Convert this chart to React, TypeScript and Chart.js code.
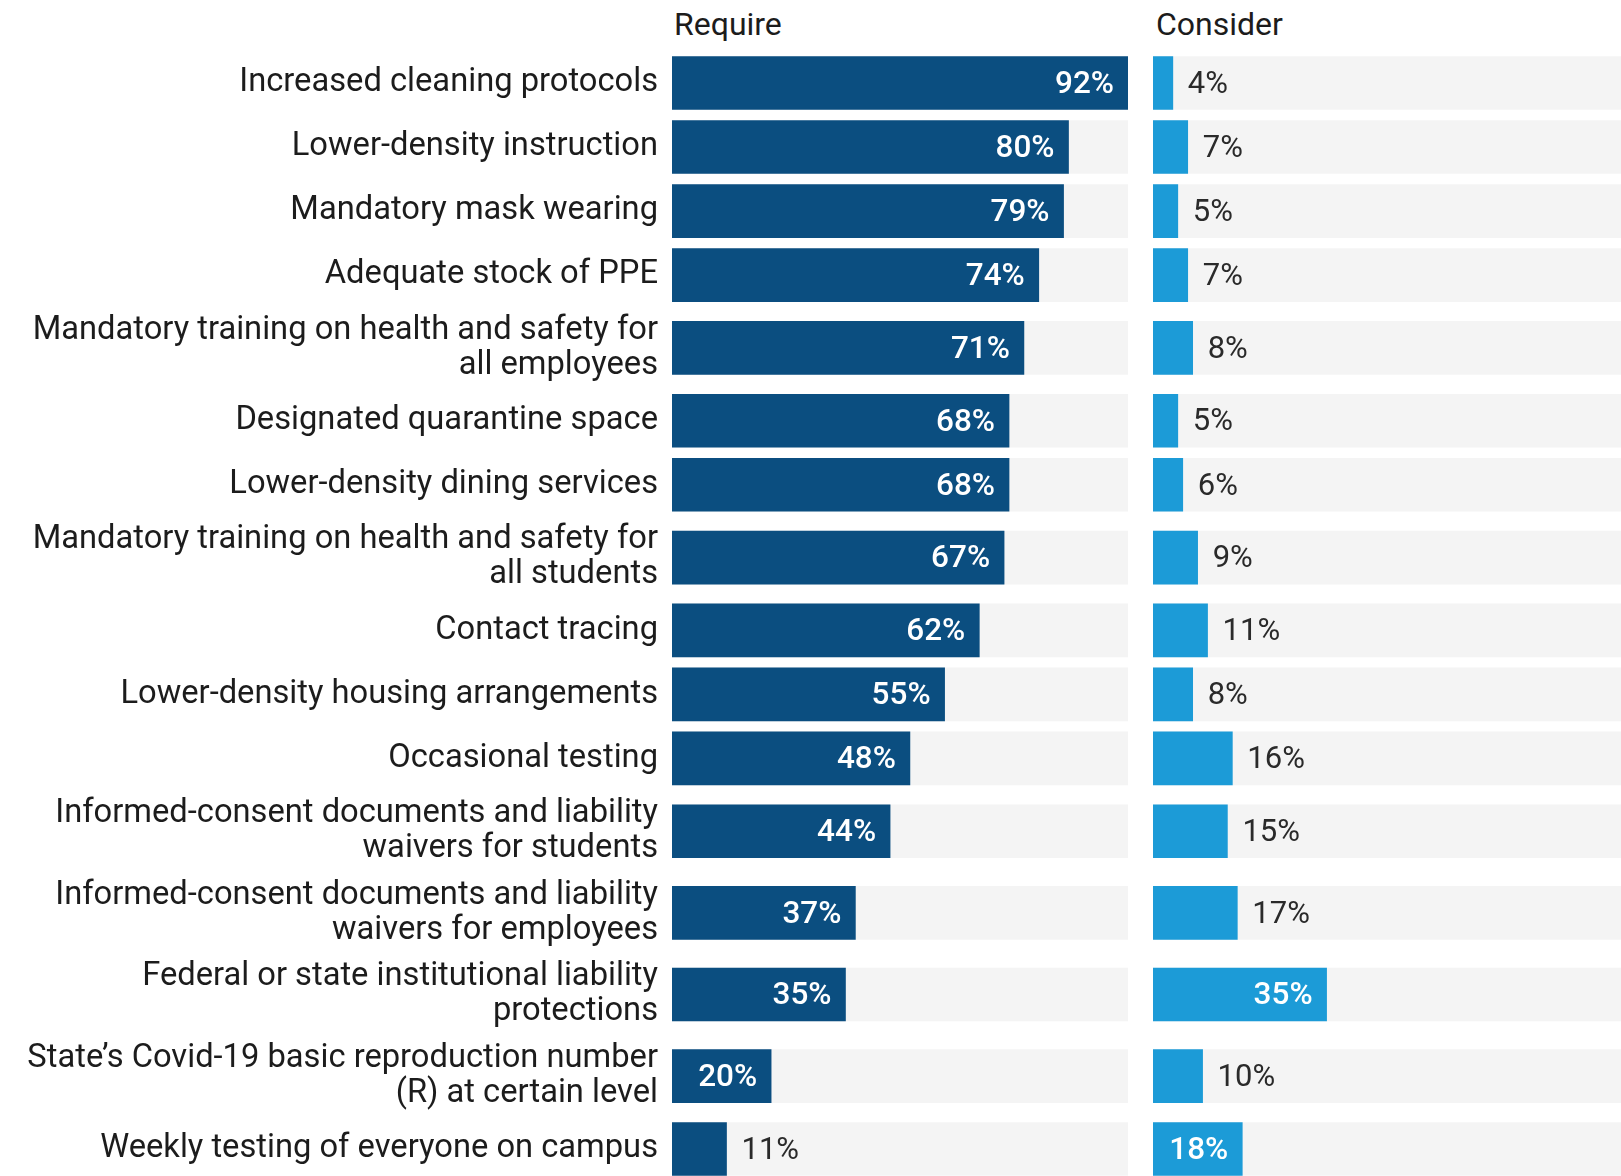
import React, { useEffect, useRef } from "react";
import { Chart, registerables } from "chart.js";

Chart.register(...registerables);

// ---- data ----
const categories: string[][] = [
  ["Increased cleaning protocols"],
  ["Lower-density instruction"],
  ["Mandatory mask wearing"],
  ["Adequate stock of PPE"],
  ["Mandatory training on health and safety for", "all employees"],
  ["Designated quarantine space"],
  ["Lower-density dining services"],
  ["Mandatory training on health and safety for", "all students"],
  ["Contact tracing"],
  ["Lower-density housing arrangements"],
  ["Occasional testing"],
  ["Informed-consent documents and liability", "waivers for students"],
  ["Informed-consent documents and liability", "waivers for employees"],
  ["Federal or state institutional liability", "protections"],
  ["State\u2019s Covid-19 basic reproduction number", "(R) at certain level"],
  ["Weekly testing of everyone on campus"],
];
const requireValues = [92, 80, 79, 74, 71, 68, 68, 67, 62, 55, 48, 44, 37, 35, 20, 11];
const considerValues = [4, 7, 5, 7, 8, 5, 6, 9, 11, 8, 16, 15, 17, 35, 10, 18];
const panelTitles = ["Require", "Consider"];

// ---- layout helpers (row height grows with the number of label lines) ----
const rowWeights = categories.map((l) => (l.length > 1 ? 1.275 : 1));
const rowCenters: number[] = [];
let acc = 0;
rowWeights.forEach((w) => {
  rowCenters.push(acc + w / 2);
  acc += w;
});
const totalRows = acc;

const DARK = "#0b4e80";
const LIGHT = "#1c9bd7";
const TRACK = "#f4f4f4";
const FONT = "Roboto, 'Noto Sans', sans-serif";

function makeLabelPlugin(values: number[]) {
  return {
    id: "valueLabels",
    afterDatasetsDraw(chart: any) {
      const meta = chart.getDatasetMeta(0);
      const ctx = chart.ctx;
      ctx.save();
      meta.data.forEach((bar: any, i: number) => {
        const v = values[i];
        const inside = v >= 18;
        ctx.font = inside ? `500 31.5px ${FONT}` : `400 31px ${FONT}`;
        ctx.fillStyle = inside ? "#ffffff" : "#2a2a2a";
        ctx.textAlign = inside ? "right" : "left";
        ctx.textBaseline = "middle";
        const x = inside ? bar.x - 14 : bar.x + 15;
        ctx.fillText(v + "%", x, bar.y + 2);
      });
      ctx.restore();
    },
  };
}

function makeChart(
  canvas: HTMLCanvasElement,
  values: number[],
  color: string,
  trackMax: number,
  showLabels: boolean
) {
  return new Chart(canvas, {
    type: "bar",
    data: {
      datasets: [
        {
          data: values.map((v, i) => ({ x: v, y: rowCenters[i] })),
          backgroundColor: color,
          barThickness: 53,
          grouped: false,
          order: 0,
        } as any,
        {
          data: rowCenters.map((y) => ({ x: trackMax, y })),
          backgroundColor: TRACK,
          barThickness: 53,
          grouped: false,
          order: 1,
        } as any,
      ],
    },
    options: {
      indexAxis: "y",
      responsive: false,
      animation: false,
      layout: { padding: { top: 51, bottom: 0, left: 0, right: 0 } },
      plugins: {
        legend: { display: false },
        tooltip: { enabled: false },
      },
      scales: {
        x: { type: "linear", min: 0, max: trackMax, display: false },
        y: {
          type: "linear",
          min: 0,
          max: totalRows,
          reverse: true,
          offset: false,
          display: true,
          grid: { display: false, drawTicks: false },
          border: { display: false },
          afterBuildTicks: (scale: any) => {
            scale.ticks = rowCenters.map((v) => ({ value: v }));
          },
          afterFit: (scale: any) => {
            scale.width = showLabels ? 672 : 0;
            scale.paddingTop = 0;
            scale.paddingBottom = 0;
          },
          ticks: {
            autoSkip: false,
            padding: 14,
            color: showLabels ? "#1c1c1c" : "rgba(0,0,0,0)",
            font: { family: FONT, size: 32.7, lineHeight: 1.07 },
            callback: (_v: any, i: number) => categories[i],
          },
        } as any,
      },
    },
    plugins: [makeLabelPlugin(values)],
  } as any);
}

export default function App() {
  const leftRef = useRef<HTMLCanvasElement>(null);
  const rightRef = useRef<HTMLCanvasElement>(null);

  useEffect(() => {
    const c1 = makeChart(leftRef.current!, requireValues, DARK, 92, true);
    const c2 = makeChart(rightRef.current!, considerValues, LIGHT, 100, false);
    return () => {
      c1.destroy();
      c2.destroy();
    };
  }, []);

  const titleStyle: React.CSSProperties = {
    position: "absolute",
    top: 8,
    fontFamily: FONT,
    fontSize: 32,
    lineHeight: "32px",
    color: "#1c1c1c",
    whiteSpace: "nowrap",
  };

  return (
    <div
      style={{
        position: "absolute",
        top: 0,
        left: 0,
        width: 1621,
        height: 1176,
        overflow: "hidden",
        background: "#ffffff",
      }}
    >
      <div style={{ ...titleStyle, left: 674 }}>{panelTitles[0]}</div>
      <div style={{ ...titleStyle, left: 1156 }}>{panelTitles[1]}</div>
      <canvas
        ref={leftRef}
        width={1128}
        height={1181}
        style={{ position: "absolute", left: 0, top: 0 }}
      />
      <canvas
        ref={rightRef}
        width={496}
        height={1181}
        style={{ position: "absolute", left: 1153, top: 0 }}
      />
    </div>
  );
}
